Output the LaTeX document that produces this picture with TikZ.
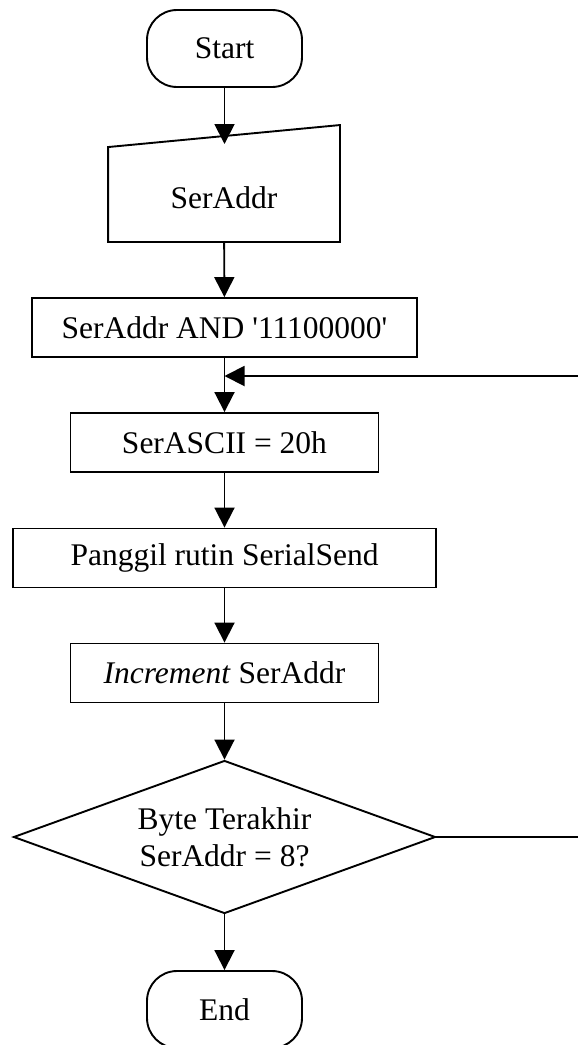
\documentclass[tikz,border=0pt]{standalone}
\usepackage{fontspec}
\setmainfont{Liberation Serif}
\usetikzlibrary{shapes.geometric,arrows.meta,calc}

\begin{document}
\begin{tikzpicture}[x=1pt, y=-1pt, line width=1.9pt,
  every node/.style={font=\fontsize{31.5}{37}\selectfont, inner sep=0pt},
  term/.style={draw, rounded corners=30pt, minimum width=155pt, minimum height=77pt},
  proc/.style={draw, minimum height=59pt},
  arr/.style={-{Triangle[length=20pt,width=20pt]}}]
\useasboundingbox (0,0) rectangle (578,1045);
\node[term] (Start) at (224.5,48.5) {Start};
\node[minimum width=230pt, minimum height=86pt] (Inp) at (224,198) {SerAddr};
\draw (Inp.south west) -- (Inp.south east) -- ($(Inp.north east)+(0,-29)$)
  -- ($(Inp.north west)+(0,-7)$) -- cycle;
\coordinate (InpTop) at (224.5,144);
  \node[proc, minimum width=385pt] (Mask) at (224.5,327.5) {SerAddr AND \textquotesingle 11100000\textquotesingle};
  \node[proc, minimum width=308pt] (Ascii) at (224.5,442.5) {SerASCII = 20h};
  \node[proc, minimum width=423pt] (Send) at (224.5,558) {Panggil rutin SerialSend};
  \node[proc, minimum width=308pt] (Inc) at (224.5,673) {\textit{Increment} SerAddr};
\node[draw, diamond, aspect=2.76, minimum width=422pt, minimum height=153pt,
  align=center] (Last) at (224.5,837) {Byte Terakhir\\SerAddr = 8?};
\node[term] (End) at (224.5,1009.5) {End};
% loop back
\coordinate (Join) at (224.5,376);
\coordinate (LoopIn) at (578,376);
\coordinate (LoopOut) at (578,837);
\draw[arr] (Start) -- (InpTop);
\draw[arr] (Inp) -- (Mask);
\draw[arr] (Mask) -- (Ascii);
\draw[arr] (LoopIn) -- (Join);
\draw[arr] (Ascii) -- (Send);
\draw[arr] (Send) -- (Inc);
\draw[arr] (Inc) -- (Last);
\draw[arr] (Last) -- (End);
\draw (Last.east) -- (LoopOut);
\end{tikzpicture}
\end{document}
